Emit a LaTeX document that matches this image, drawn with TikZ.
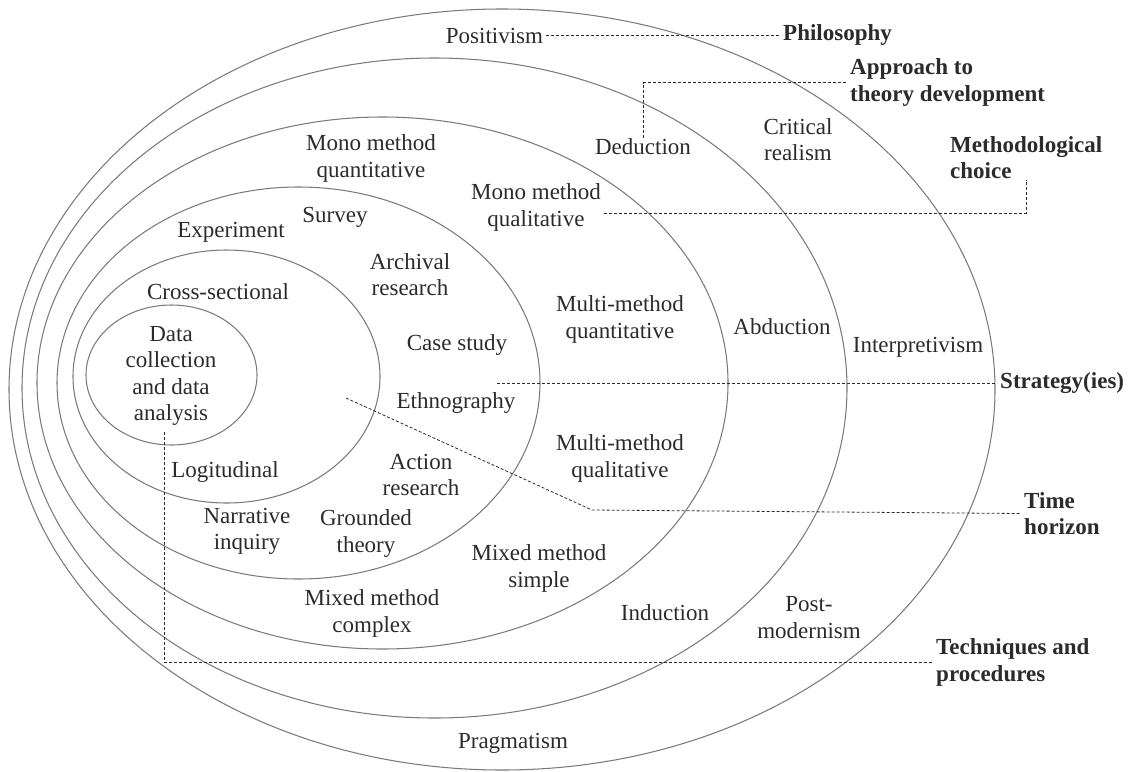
\documentclass[tikz,border=0pt]{standalone}
\usepackage{fontspec}
\setmainfont{Liberation Serif}
\usetikzlibrary{calc}
\definecolor{ringgray}{HTML}{7A7A7A}
\definecolor{inkgray}{HTML}{2B2B2B}
\begin{document}
\begin{tikzpicture}[x=1pt,y=-1pt,
  ring/.style={draw=ringgray,line width=1.05pt},
  lbl/.style={inner xsep=3pt,inner ysep=1pt,align=center,text=inkgray,
              font=\fontsize{23}{26.5}\selectfont},
  layer/.style={lbl,anchor=west,align=left,
              font=\fontsize{23}{26.5}\selectfont\bfseries},
  leader/.style={draw=inkgray,line width=0.8pt,dash pattern=on 3pt off 2pt}]
\path[use as bounding box] (0,0) rectangle (1147,771);

% the six layers of the onion, outermost first
\draw[ring] (502,389.5) ellipse [x radius=493pt, y radius=380.5pt];
\draw[ring] (434.5,388) ellipse [x radius=412.5pt, y radius=330pt];
\draw[ring] (382.5,383) ellipse [x radius=345.5pt, y radius=266pt];
\draw[ring] (298.5,383) ellipse [x radius=241.5pt, y radius=196pt];
\draw[ring] (226.5,376.5) ellipse [x radius=153.5pt, y radius=126.5pt];
\draw[ring] (171.5,375) ellipse [x radius=85.5pt, y radius=70pt];

% philosophies
\node[lbl] (positivism) at (494.5,36) {Positivism};
\node[lbl] (critical) at (798,139.5) {Critical\\realism};
\node[lbl] (interp) at (918,347) {Interpretivism};
\node[lbl] (postmod) at (809,617.5) {Post-\\modernism};
\node[lbl] (pragmatism) at (513,743) {Pragmatism};

% approaches to theory development
\node[lbl] (deduction) at (643,147) {Deduction};
\node[lbl] (abduction) at (782,327) {Abduction};
\node[lbl] (induction) at (665,613) {Induction};

% methodological choices
\node[lbl] (mmquant) at (371,158.5) {Mono method\\quantitative};
\node[lbl] (mmqual) at (536,207.5) {Mono method\\qualitative};
\node[lbl] (multiquant) at (620,319.5) {Multi-method\\quantitative};
\node[lbl] (multiqual) at (620,458.5) {Multi-method\\qualitative};
\node[lbl] (mmsimple) at (539,568.5) {Mixed method\\simple};
\node[lbl] (mmcomplex) at (372,613.5) {Mixed method\\complex};

% strategies
\node[lbl] (survey) at (335,217) {Survey};
\node[lbl] (experiment) at (231,232) {Experiment};
\node[lbl] (archival) at (410,274.5) {Archival\\research};
\node[lbl] (casestudy) at (457,345) {Case study};
\node[lbl] (ethno) at (456,403) {Ethnography};
\node[lbl] (action) at (421,475) {Action\\research};
\node[lbl] (grounded) at (366,533.5) {Grounded\\theory};
\node[lbl] (narrative) at (247,531.5) {Narrative\\inquiry};

% time horizons
\node[lbl] (cross) at (218,292) {Cross-sectional};
\node[lbl] (longit) at (225,472) {Logitudinal};

% core
\node[lbl] (core) at (171,376) {Data\\collection\\and data\\analysis};

% layer names on the right
\node[layer] (philosophy) at (780,35) {Philosophy};
\node[layer] (approach) at (847,82.5) {Approach to\\theory development};
\node[layer] (methodo) at (947,157.5) {Methodological\\choice};
\node[layer] (strategy) at (997,383) {Strategy(ies)};
\node[layer] (timeh) at (1021,513.5) {Time\\horizon};
\node[layer] (techniques) at (933,662.5) {Techniques and\\procedures};

% free ends and bend of the leader lines
\coordinate (stratstart) at (497,383);
\coordinate (thstart) at (346,398);
\coordinate (thbend) at (592,510);
\coordinate (tpstart) at (164,432);

% leader lines
\draw[leader] (positivism.east |- philosophy.west) -- (philosophy.west);
\draw[leader] (deduction.north) |- (approach.west);
\draw[leader] ($(mmqual.east)+(0,5.5)$) -| (methodo.south);
\draw[leader] (stratstart) -- (strategy.west);
\draw[leader] (thstart) -- (thbend) -- (timeh.west);
\draw[leader] (tpstart) |- (techniques.west);
\end{tikzpicture}
\end{document}
